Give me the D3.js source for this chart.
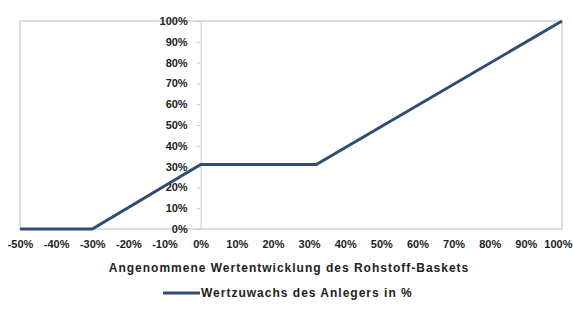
<!DOCTYPE html>
<html lang="de">
<head>
<meta charset="UTF-8">
<title>Wertzuwachs des Anlegers</title>
<script src="https://cdn.jsdelivr.net/npm/d3@7"></script>
<style>
  body { margin: 0; background: #fff; }
  text { font-family: "Liberation Sans", Arial, sans-serif; font-weight: bold; fill: #222; }
</style>
</head>
<body>
<div id="grafica"></div>
<script>
// Wertentwicklung des Baskets (x) und Wertzuwachs des Anlegers (y), in %
const basket  = [-50, -30, 0, 32, 100]
const zuwachs = [0, 0, 31, 31, 100]
const xTicks = [-50, -40, -30, -20, -10, 0, 10, 20, 30, 40, 50, 60, 70, 80, 90, 100]
const yTicks = [0, 10, 20, 30, 40, 50, 60, 70, 80, 90, 100]
const xTitle = 'Angenommene Wertentwicklung des Rohstoff-Baskets'
const serie  = 'Wertzuwachs des Anlegers in %'

const ancho = 573, alto = 318
const mLeft = 20, mRight = 562, mTop = 21, mBottom = 229
const color = '#2f4d73'

const svg = d3.select('#grafica').append('svg')
  .attr('width', ancho).attr('height', alto)

const x = d3.scaleLinear().domain([-50, 100]).range([mLeft, mRight])
const y = d3.scaleLinear().domain([0, 100]).range([mBottom, mTop])

// Rahmen der Zeichenfläche
svg.append('rect')
  .attr('x', mLeft).attr('y', mTop)
  .attr('width', mRight - mLeft).attr('height', mBottom - mTop)
  .attr('fill', 'none').attr('stroke', '#d4d4d4').attr('stroke-width', 1.5)

// y-Achse bei 0 %
const yAxis = svg.append('g')
  .attr('transform', `translate(${x(0)},0)`)
  .call(d3.axisLeft(y).tickValues(yTicks).tickSize(4).tickPadding(9).tickFormat(d => d + '%'))
yAxis.select('.domain').attr('stroke', '#c8c8c8')
yAxis.selectAll('.tick line').attr('stroke', '#c8c8c8')
yAxis.selectAll('text').attr('font-size', 11).style('font-family', 'Liberation Sans, Arial, sans-serif').style('font-weight', 'bold').attr('fill', '#222')

// x-Achse, nur Beschriftung
const xAxis = svg.append('g')
  .attr('transform', `translate(0,${mBottom})`)
  .call(d3.axisBottom(x).tickValues(xTicks).tickSize(0).tickPadding(11).tickFormat(d => d + '%'))
xAxis.select('.domain').remove()
xAxis.selectAll('text').attr('font-size', 11).style('font-family', 'Liberation Sans, Arial, sans-serif').style('font-weight', 'bold').attr('fill', '#222')
// letzte Beschriftung am Rand halten
xAxis.selectAll('.tick').filter(d => d === 100).select('text')
  .attr('text-anchor', 'end').attr('x', ancho - 1 - x(100))

svg.append('text')
  .attr('x', 289).attr('y', 272)
  .attr('text-anchor', 'middle').attr('font-size', 12)
  .attr('letter-spacing', 1)
  .text(xTitle)

const data = basket.map((b, i) => ({ b: b, z: zuwachs[i] }))
const linea = d3.line().x(d => x(d.b)).y(d => y(d.z))

svg.append('path')
  .datum(data)
  .attr('d', linea)
  .attr('fill', 'none')
  .attr('stroke', color)
  .attr('stroke-width', 3)

// Legende
svg.append('line')
  .attr('x1', 163).attr('x2', 200).attr('y1', 293).attr('y2', 293)
  .attr('stroke', color).attr('stroke-width', 3)
svg.append('text')
  .attr('x', 201).attr('y', 297)
  .attr('font-size', 12)
  .attr('letter-spacing', 1)
  .text(serie)
</script>
</body>
</html>
